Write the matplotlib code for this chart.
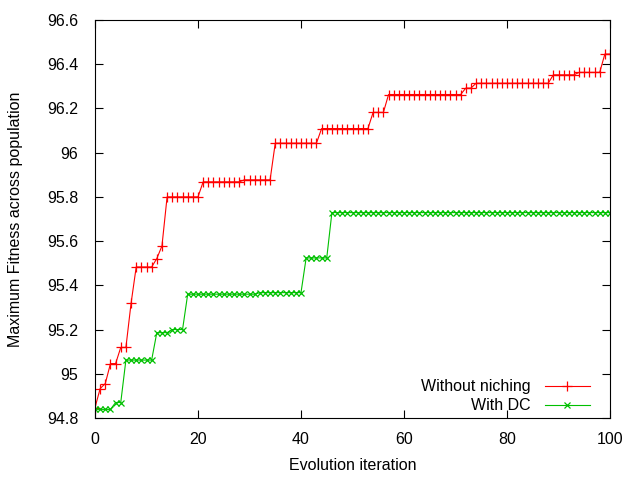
import matplotlib
matplotlib.use("Agg")
import matplotlib.pyplot as plt
from matplotlib.ticker import FuncFormatter, MultipleLocator

# ==========================================
# DATA
# ==========================================
iterations = list(range(101))

without_niching = [
    94.847, 94.933, 94.956, 95.046, 95.046, 95.119, 95.119, 95.318, 95.483, 95.483,
    95.483, 95.483, 95.521, 95.578, 95.800, 95.800, 95.800, 95.800, 95.800, 95.800,
    95.800, 95.868, 95.868, 95.868, 95.868, 95.868, 95.868, 95.868, 95.868, 95.877,
    95.877, 95.877, 95.877, 95.877, 95.877, 96.043, 96.043, 96.043, 96.043, 96.043,
    96.043, 96.043, 96.043, 96.043, 96.109, 96.109, 96.109, 96.109, 96.109, 96.109,
    96.109, 96.109, 96.109, 96.109, 96.182, 96.182, 96.182, 96.263, 96.263, 96.263,
    96.263, 96.263, 96.263, 96.263, 96.263, 96.263, 96.263, 96.263, 96.263, 96.263,
    96.263, 96.263, 96.292, 96.292, 96.314, 96.314, 96.314, 96.314, 96.314, 96.314,
    96.314, 96.314, 96.314, 96.314, 96.314, 96.314, 96.314, 96.314, 96.314, 96.352,
    96.352, 96.352, 96.352, 96.352, 96.363, 96.363, 96.363, 96.363, 96.363, 96.446,
    96.446,
]

with_dc = [
    94.839, 94.839, 94.839, 94.839, 94.870, 94.870, 95.062, 95.062, 95.062, 95.062,
    95.062, 95.062, 95.186, 95.186, 95.186, 95.200, 95.200, 95.200, 95.360, 95.360,
    95.360, 95.360, 95.360, 95.360, 95.360, 95.360, 95.360, 95.360, 95.360, 95.360,
    95.360, 95.360, 95.367, 95.367, 95.367, 95.367, 95.367, 95.367, 95.367, 95.367,
    95.367, 95.524, 95.524, 95.524, 95.524, 95.524, 95.729, 95.729, 95.729, 95.729,
    95.729, 95.729, 95.729, 95.729, 95.729, 95.729, 95.729, 95.729, 95.729, 95.729,
    95.729, 95.729, 95.729, 95.729, 95.729, 95.729, 95.729, 95.729, 95.729, 95.729,
    95.729, 95.729, 95.729, 95.729, 95.729, 95.729, 95.729, 95.729, 95.729, 95.729,
    95.729, 95.729, 95.729, 95.729, 95.729, 95.729, 95.729, 95.729, 95.729, 95.729,
    95.729, 95.729, 95.729, 95.729, 95.729, 95.729, 95.729, 95.729, 95.729, 95.729,
    95.729,
]

FS = 11.5
plt.rcParams['font.family'] = ['Liberation Sans', 'DejaVu Sans']
plt.rcParams['font.size'] = FS

fig = plt.figure(figsize=(6.4, 4.8), dpi=100)
ax = fig.add_axes([95 / 640, 1 - 418 / 480, 515 / 640, 398 / 480])

ax.plot(iterations, without_niching, color='#ff0000', linewidth=0.8,
        marker='+', markersize=6.5, markeredgewidth=0.9, label='Without niching')
ax.plot(iterations, with_dc, color='#00c000', linewidth=0.8,
        marker='x', markersize=5, markeredgewidth=0.9, label='With DC')

ax.set_xlim(0, 100)
ax.set_ylim(94.8, 96.6)
ax.xaxis.set_major_locator(MultipleLocator(20))
ax.yaxis.set_major_locator(MultipleLocator(0.2))
ax.yaxis.set_major_formatter(FuncFormatter(lambda v, p: '%g' % round(v, 2)))
ax.tick_params(direction='in', top=True, right=True, length=6, width=0.8,
               labelsize=FS, colors='black')
ax.tick_params(axis='x', pad=10)
ax.tick_params(axis='y', pad=12)
for s in ax.spines.values():
    s.set_linewidth(0.8)

ax.set_xlabel('Evolution iteration', fontsize=FS, labelpad=8)
ax.set_ylabel('Maximum Fitness across population', fontsize=FS, labelpad=17)

ax.legend(loc='lower right', bbox_to_anchor=(0.976, -0.008), frameon=False,
          markerfirst=False, handlelength=2.8, handletextpad=0.9,
          borderpad=0, labelspacing=0.25, fontsize=FS)

fig.savefig('out.png', dpi=100)
